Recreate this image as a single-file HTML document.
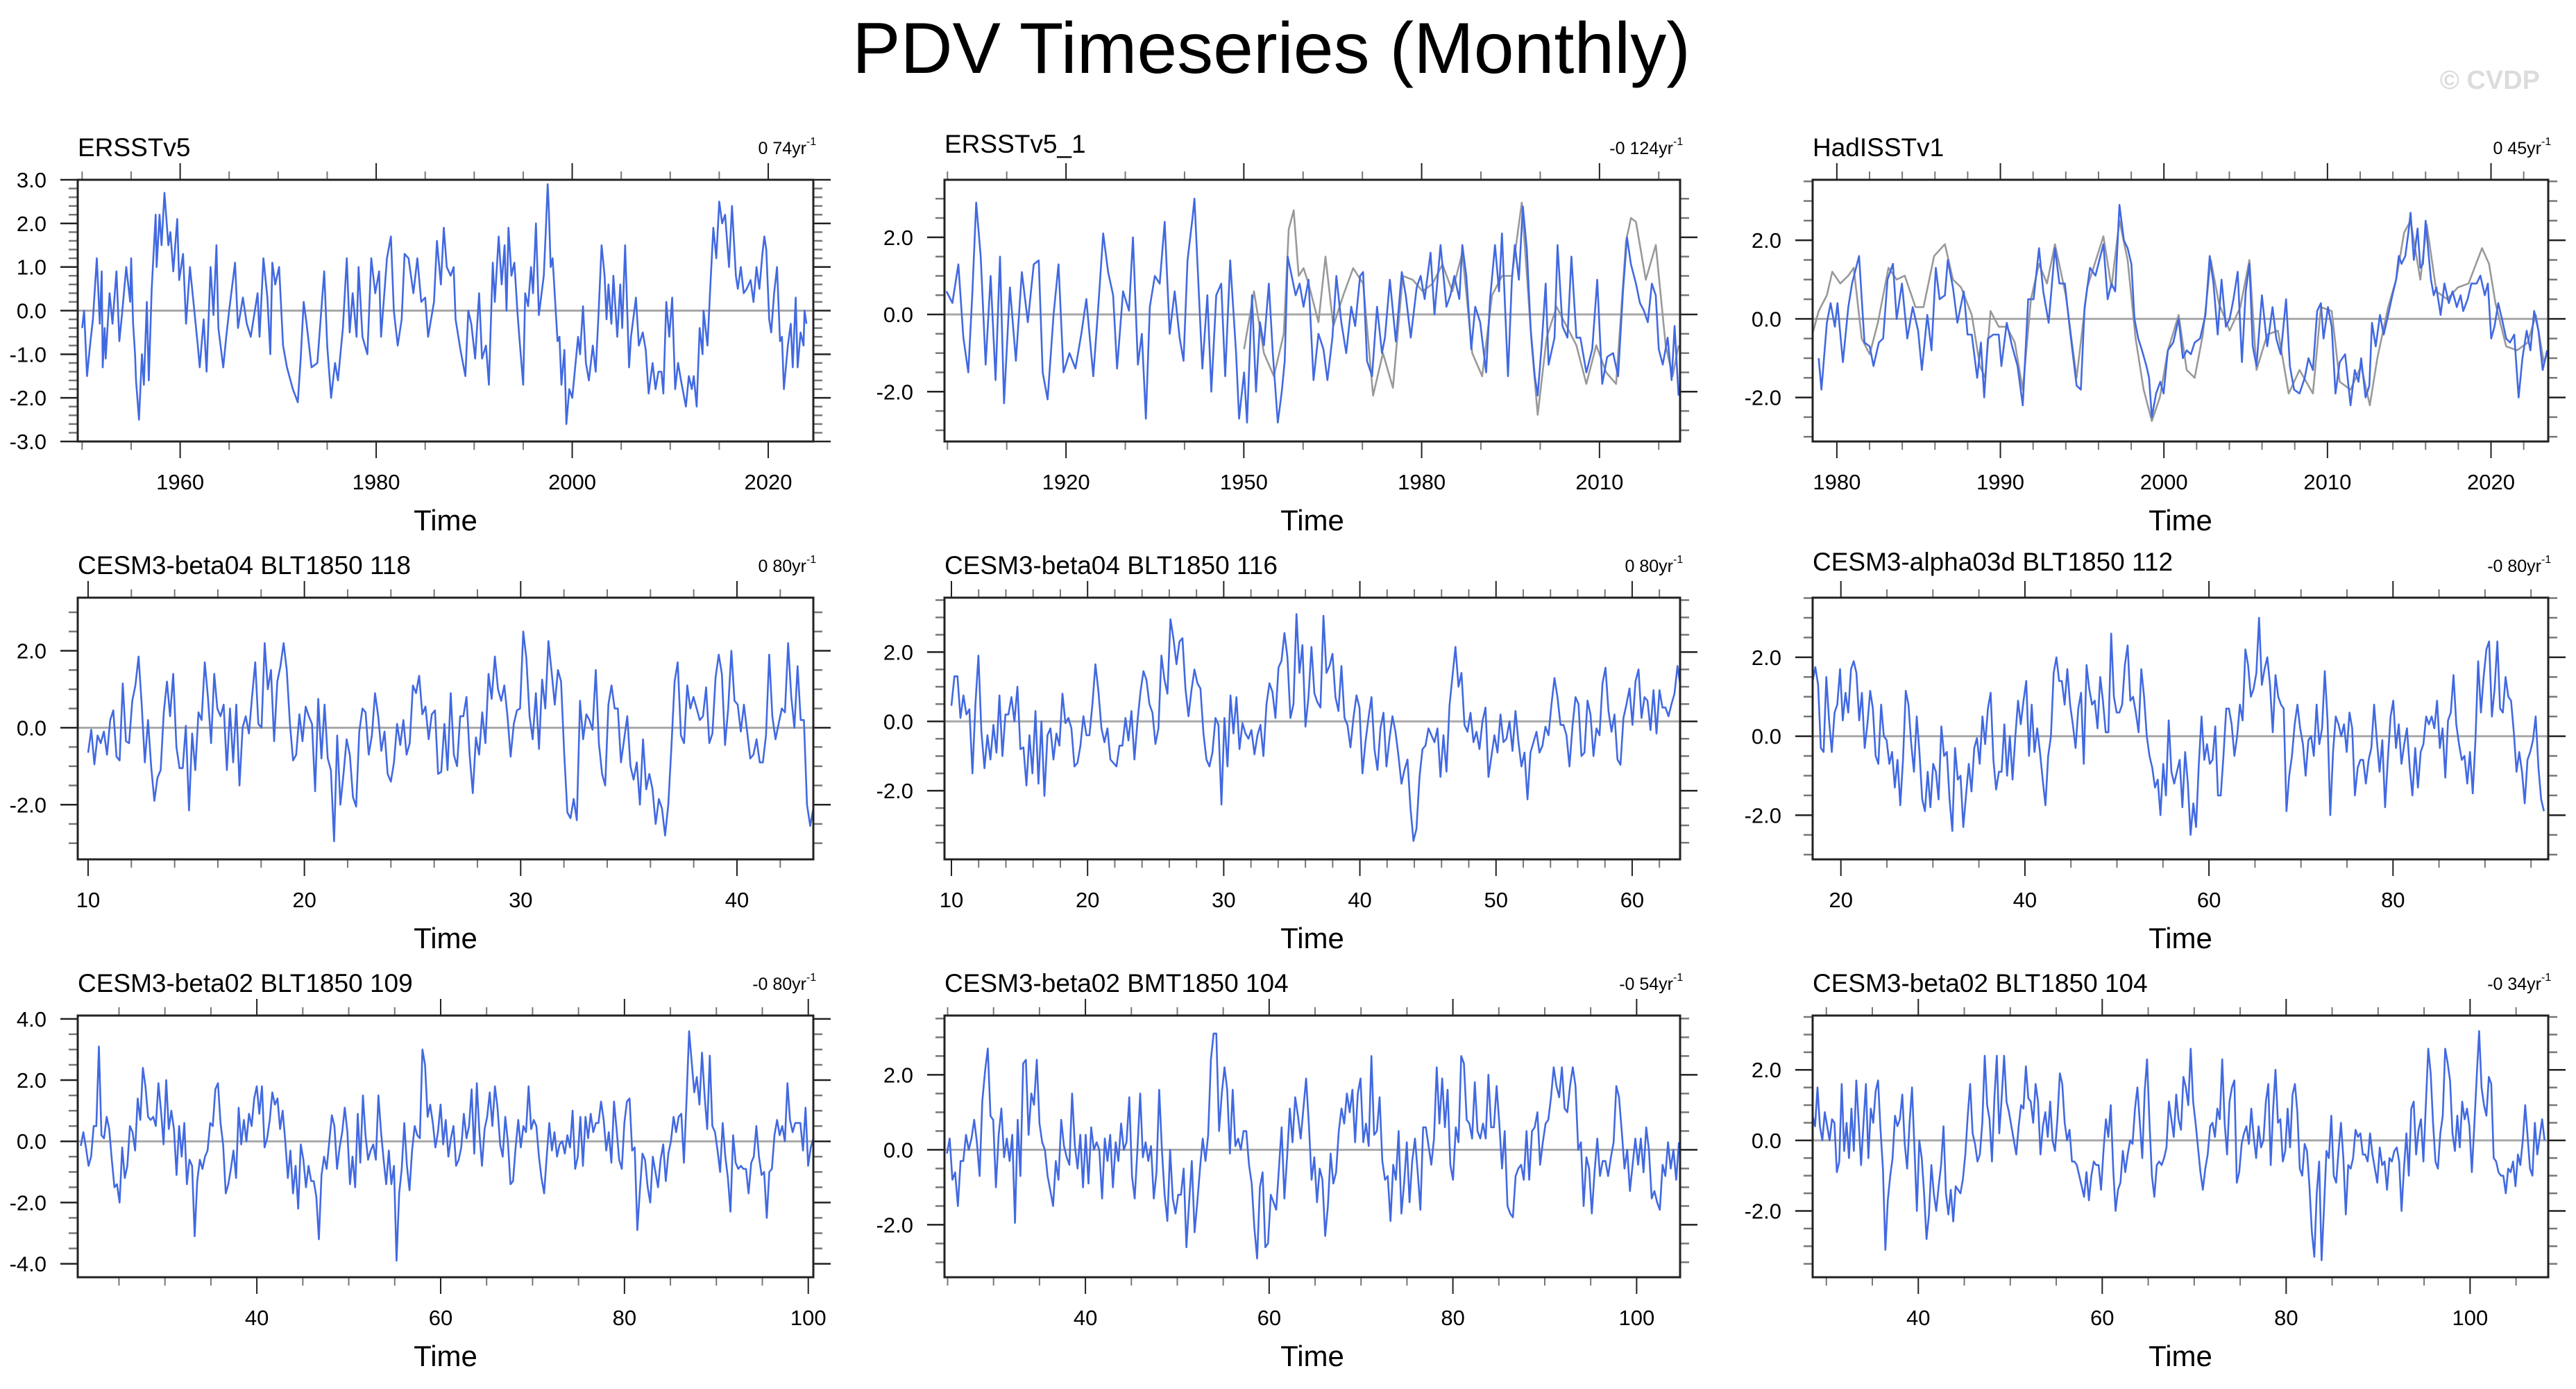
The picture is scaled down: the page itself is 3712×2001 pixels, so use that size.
<!DOCTYPE html>
<html><head><meta charset="utf-8"><title>PDV Timeseries (Monthly)</title>
<style>
html,body{margin:0;padding:0;background:#fff;}
svg{display:block;font-family:"Liberation Sans",Arial,sans-serif;}
</style></head>
<body>
<svg id="chart" width="3712" height="2001" viewBox="0 0 3712 2001" xmlns="http://www.w3.org/2000/svg">
<rect x="0" y="0" width="3712" height="2001" fill="#fff"/>
<text x="1832" y="105" font-size="104" text-anchor="middle" fill="#000">PDV Timeseries (Monthly)</text>
<text x="3660" y="128" font-size="38" font-weight="bold" text-anchor="end" fill="#dcdcdc">© CVDP</text>
</svg>
<script>
// ---------- data ----------
const p1Times = [1950.0,1950.2,1950.5,1950.8,1951.1,1951.5,1951.8,1952.0,1952.1,1952.3,1952.4,1952.8,1953.1,1953.5,1953.8,1954.1,1954.5,1954.9,1955.0,1955.2,1955.4,1955.5,1955.8,1956.1,1956.3,1956.6,1956.8,1957.1,1957.5,1957.6,1957.9,1958.1,1958.4,1958.8,1959.0,1959.3,1959.7,1959.9,1960.3,1960.6,1961.0,1961.4,1961.8,1962.0,1962.4,1962.7,1963.1,1963.4,1963.7,1963.9,1964.4,1964.7,1965.0,1965.6,1965.9,1966.4,1966.8,1967.2,1967.9,1968.1,1968.5,1968.9,1969.2,1969.4,1969.7,1970.1,1970.5,1970.9,1971.5,1972.0,1972.3,1972.6,1972.9,1973.4,1974.0,1974.7,1975.0,1975.4,1975.8,1976.1,1976.6,1977.0,1977.3,1977.6,1978.0,1978.2,1978.6,1979.1,1979.5,1979.9,1980.3,1980.5,1981.1,1981.5,1981.8,1982.2,1982.6,1982.9,1983.3,1983.8,1984.2,1984.6,1985.0,1985.3,1985.9,1986.2,1986.6,1986.9,1987.2,1987.6,1987.9,1988.1,1988.6,1989.1,1989.4,1989.7,1990.1,1990.5,1990.8,1991.2,1991.5,1991.9,1992.1,1992.5,1992.8,1993.1,1993.3,1993.5,1993.8,1994.1,1994.4,1994.6,1995.0,1995.2,1995.5,1995.8,1996.0,1996.3,1996.6,1997.1,1997.3,1997.5,1997.6,1997.8,1998.0,1998.5,1998.7,1998.9,1999.2,1999.4,1999.7,2000.0,2000.3,2000.6,2000.8,2001.1,2001.4,2001.7,2002.1,2002.4,2002.7,2003.0,2003.3,2003.5,2003.7,2004.0,2004.2,2004.6,2004.9,2005.1,2005.4,2005.8,2006.0,2006.5,2006.8,2007.2,2007.5,2007.8,2008.2,2008.5,2008.8,2009.1,2009.3,2009.6,2009.9,2010.2,2010.5,2010.8,2011.1,2011.6,2011.9,2012.2,2012.4,2012.7,2013.0,2013.3,2013.4,2013.8,2014.1,2014.4,2014.7,2015.0,2015.3,2015.6,2016.0,2016.3,2016.7,2016.9,2017.2,2017.5,2017.8,2018.2,2018.5,2018.8,2019.1,2019.4,2019.6,2019.8,2020.1,2020.3,2020.6,2020.9,2021.2,2021.4,2021.6,2022.0,2022.3,2022.5,2022.8,2023.0,2023.3,2023.6,2023.7,2023.9];
const p1Values = [-0.4,0.0,-1.5,-0.8,-0.2,1.2,-0.3,0.9,-1.3,-0.4,-1.1,0.4,-0.3,0.9,-0.7,0.0,1.0,0.2,1.2,-0.3,-1.0,-1.6,-2.5,-1.0,-1.7,0.2,-1.6,0.5,2.2,1.0,2.2,1.5,2.7,1.5,1.8,0.9,2.1,0.7,1.3,-0.3,1.0,0.1,-0.8,-1.3,-0.2,-1.4,1.0,-0.1,1.5,-0.4,-1.3,-0.6,0.0,1.1,-0.4,0.3,-0.3,-0.6,0.4,-0.6,1.2,0.3,-1.0,1.1,0.6,1.0,-0.8,-1.3,-1.8,-2.1,-1.1,0.2,-0.3,-1.3,-1.2,0.9,-0.8,-2.0,-1.2,-1.6,-0.4,1.2,-0.5,0.4,-0.6,1.0,-0.6,-1.0,1.2,0.4,0.9,-0.6,1.2,1.7,0.0,-0.8,-0.2,1.3,1.2,0.4,1.2,0.2,0.3,-0.6,0.2,1.6,0.6,1.9,1.0,0.8,1.0,-0.2,-0.9,-1.5,0.0,-0.3,-1.1,0.4,-1.1,-0.8,-1.7,1.1,0.2,1.7,0.6,1.5,0.0,1.9,0.8,1.1,0.0,-0.6,-1.7,0.4,0.1,1.0,0.4,2.0,-0.1,0.8,1.8,2.9,2.4,1.0,1.2,-0.7,-0.6,-1.7,-0.9,-2.6,-1.8,-2.0,-1.3,-0.6,-1.0,0.1,-1.2,-1.6,-0.8,-1.4,0.0,1.5,0.8,-0.2,0.6,-0.3,0.8,-0.6,0.6,-0.4,1.5,-1.3,-0.6,0.3,-0.8,-0.5,-0.9,-1.9,-1.2,-1.8,-1.4,-1.4,-1.9,0.2,-0.6,0.3,-1.8,-1.2,-1.6,-2.2,-1.5,-1.8,-1.5,-2.2,-0.4,-1.0,0.0,-0.8,0.6,1.9,1.2,2.5,2.0,2.2,1.0,2.4,0.8,0.5,1.0,0.4,0.5,0.7,0.2,1.0,0.5,1.3,1.7,1.4,-0.2,-0.5,0.4,1.0,-0.7,-0.6,-1.8,-0.8,-0.3,-1.3,0.3,-1.3,-0.5,-0.8,0.0,-0.3];

const p2Times = [1899.83,1900.84,1901.84,1902.68,1903.51,1904.18,1904.85,1905.61,1906.44,1907.28,1908.12,1908.87,1909.54,1910.54,1911.55,1912.55,1913.56,1914.56,1915.40,1916.07,1916.90,1917.91,1918.74,1919.58,1920.59,1921.59,1922.59,1923.43,1924.60,1925.44,1926.28,1927.11,1927.95,1928.62,1929.62,1930.63,1931.30,1932.13,1932.80,1933.47,1934.14,1934.98,1935.81,1936.65,1937.49,1938.33,1939.16,1939.83,1940.50,1941.34,1941.67,1942.34,1943.01,1943.85,1944.52,1945.35,1946.19,1946.86,1947.70,1948.70,1949.20,1950.04,1950.54,1951.38,1952.05,1952.72,1953.39,1954.22,1954.89,1955.73,1956.40,1956.90,1957.40,1958.07,1958.74,1959.41,1960.08,1960.92,1961.76,1962.59,1963.43,1964.10,1964.94,1965.61,1966.44,1967.28,1968.12,1968.78,1969.62,1970.12,1970.79,1971.63,1972.47,1973.30,1973.81,1974.64,1975.65,1976.65,1977.32,1978.16,1979.16,1979.83,1980.50,1981.50,1982.17,1983.18,1984.18,1984.85,1985.52,1986.36,1986.86,1987.53,1988.37,1989.04,1989.87,1990.88,1991.55,1992.38,1993.05,1993.55,1994.56,1995.22,1995.73,1996.40,1997.07,1997.74,1998.41,1999.08,1999.58,2000.24,2000.92,2001.42,2002.42,2002.93,2003.76,2004.60,2005.27,2006.11,2006.78,2007.78,2008.78,2009.62,2010.46,2011.29,2012.30,2013.14,2013.97,2014.64,2015.31,2016.15,2016.82,2017.49,2018.16,2018.83,2019.49,2020.00,2020.67,2021.50,2022.17,2022.67,2023.34];
const p2Values = [0.6,0.3,1.3,-0.6,-1.5,0.5,2.9,1.5,-1.3,1.0,-1.7,1.5,-2.3,0.7,-1.2,1.1,-0.2,1.3,1.4,-1.5,-2.2,0.0,1.3,-1.5,-1.0,-1.4,-0.5,0.4,-1.6,0.2,2.1,1.1,0.5,-1.4,0.6,0.1,2.0,-1.3,-0.5,-2.7,0.2,1.0,0.8,2.4,-0.5,0.6,-0.6,-1.2,1.4,2.5,3.0,0.8,-1.4,0.5,-2.0,0.5,0.8,-1.6,1.4,-1.0,-2.7,-1.5,-2.8,0.5,-2.0,-0.2,-0.8,0.8,-1.0,-2.8,-2.0,-1.2,1.5,1.0,0.5,0.8,0.2,0.9,-1.7,-0.5,-0.9,-1.7,-0.6,1.0,-0.2,-1.0,0.2,-0.3,1.0,1.1,-1.2,-1.6,0.2,-1.0,-0.6,0.9,-0.7,1.1,0.5,-0.6,0.7,1.0,0.4,1.6,0.0,1.8,0.2,0.5,1.0,0.4,1.8,1.0,-0.9,0.2,-0.2,-1.5,0.4,1.8,0.6,2.1,-1.6,0.9,1.8,0.9,2.8,1.7,-0.4,-1.6,-2.1,-0.8,0.8,-1.3,-0.6,1.8,-0.3,-0.6,1.5,-0.6,-0.6,-1.5,-0.9,0.9,-1.8,-1.1,-1.0,-1.6,0.6,2.0,1.3,0.8,0.3,0.1,-0.2,0.8,0.5,-0.9,-1.3,-0.6,-1.7,-0.3,-2.1];
const p2GrayTimes = [1950.04,1951.72,1953.39,1955.06,1956.74,1957.57,1958.41,1959.25,1960.08,1960.92,1962.59,1963.77,1965.10,1966.78,1968.45,1970.13,1971.80,1973.47,1975.15,1976.82,1978.49,1980.17,1981.84,1983.51,1985.19,1986.86,1988.54,1990.21,1991.88,1993.56,1995.23,1996.90,1998.58,1999.58,2001.09,2002.76,2004.44,2006.11,2007.78,2009.46,2011.13,2012.80,2014.48,2015.31,2016.15,2017.82,2019.50,2021.17,2022.34,2023.35];
const p2GrayValues = [-0.9,0.6,-1.0,-1.6,-0.5,2.2,2.7,1.0,1.2,0.8,-0.2,1.5,-0.3,0.5,1.2,0.8,-2.1,-1.0,-1.9,1.0,0.9,0.6,0.8,1.3,0.6,1.6,-1.0,-1.6,0.5,1.0,1.0,2.9,-0.8,-2.6,-0.6,0.2,-0.3,-0.8,-1.8,-0.8,-1.5,-1.8,1.9,2.5,2.4,0.9,1.8,-0.8,-1.6,-0.8];

const p3Times = [1978.89,1979.06,1979.39,1979.62,1979.88,1980.04,1980.37,1980.70,1980.93,1981.36,1981.69,1982.01,1982.24,1982.57,1982.83,1983.10,1983.43,1983.66,1983.98,1984.31,1984.64,1984.97,1985.20,1985.53,1985.79,1986.05,1986.28,1986.61,1986.78,1987.10,1987.37,1987.76,1987.99,1988.25,1988.58,1988.81,1989.01,1989.24,1989.57,1989.90,1990.06,1990.39,1990.72,1991.05,1991.37,1991.70,1992.03,1992.36,1992.62,1992.95,1993.34,1993.61,1993.94,1994.26,1994.66,1994.92,1995.15,1995.48,1995.81,1996.30,1996.56,1996.79,1997.02,1997.28,1997.55,1997.78,1998.01,1998.20,1998.43,1998.66,1998.93,1999.09,1999.26,1999.52,1999.78,1999.98,2000.24,2000.57,2000.90,2001.16,2001.39,2001.65,2001.88,2002.21,2002.54,2002.80,2003.03,2003.29,2003.52,2003.79,2004.02,2004.25,2004.51,2004.77,2005.00,2005.23,2005.43,2005.66,2005.99,2006.32,2006.64,2006.87,2007.14,2007.47,2007.70,2007.96,2008.29,2008.61,2008.84,2009.11,2009.37,2009.60,2009.76,2010.03,2010.26,2010.49,2010.75,2011.08,2011.41,2011.67,2011.90,2012.06,2012.33,2012.56,2012.72,2012.95,2013.21,2013.44,2013.71,2013.97,2014.20,2014.36,2014.53,2014.76,2014.95,2015.08,2015.28,2015.51,2015.68,2015.84,2016.00,2016.17,2016.33,2016.50,2016.66,2016.92,2017.15,2017.42,2017.65,2017.91,2018.14,2018.30,2018.57,2018.80,2019.12,2019.35,2019.62,2019.81,2020.01,2020.21,2020.44,2020.67,2020.93,2021.16,2021.42,2021.69,2021.92,2022.18,2022.41,2022.64,2022.90,2023.16,2023.43];
const p3Values = [-1.0,-1.8,-0.1,0.4,-0.2,0.4,-1.1,0.3,0.9,1.6,-0.6,-0.7,-1.2,-0.6,-0.5,1.0,1.4,0.0,0.9,-0.5,0.3,-0.3,-1.3,0.1,-0.8,1.3,0.5,0.6,1.5,0.8,-0.1,0.7,-0.4,-0.4,-1.5,-0.6,-2.0,-0.5,-0.4,-0.4,-1.2,-0.1,-0.7,-1.2,-2.2,0.5,0.5,1.8,0.7,-0.1,1.8,0.9,0.9,-0.3,-1.7,-1.8,0.3,1.3,1.1,1.9,0.5,0.9,0.7,2.9,2.0,1.8,1.4,0.0,-0.5,-0.8,-1.2,-1.5,-2.5,-1.9,-1.6,-1.9,-0.8,-0.6,0.0,-1.0,-0.8,-0.9,-0.6,-0.5,0.1,1.6,0.9,-0.4,1.0,-0.2,0.0,0.5,1.2,-1.1,0.7,1.4,-0.7,-1.2,0.6,-0.7,0.3,-0.5,-0.9,0.5,-1.2,-1.8,-1.9,-1.5,-1.0,-1.3,0.2,0.4,-0.5,0.3,-0.2,-1.9,-1.1,-0.9,-2.2,-1.3,-1.6,-1.0,-2.0,-1.7,-0.1,-0.7,0.1,-0.4,0.1,0.6,1.0,1.6,1.4,1.6,2.2,2.7,1.5,2.3,1.3,1.4,2.5,1.7,1.0,0.6,0.8,0.1,0.9,0.4,0.7,0.3,0.6,0.2,0.5,0.9,0.9,1.1,0.6,0.9,-0.5,-0.2,0.4,0.0,-0.5,-0.6,-0.4,-2.0,-1.0,-0.3,-0.8,0.2,-0.3,-1.3,-0.8];
const p3GrayTimes = [1978.50,1978.89,1979.39,1979.72,1980.21,1980.70,1981.03,1981.52,1982.01,1982.51,1983.16,1983.66,1984.15,1984.81,1985.30,1985.95,1986.61,1987.10,1987.60,1988.25,1988.75,1989.07,1989.40,1989.90,1990.39,1990.88,1991.37,1991.87,1992.36,1992.85,1993.34,1994.00,1994.66,1995.31,1996.30,1996.79,1997.28,1997.78,1998.27,1998.76,1999.26,1999.75,2000.24,2000.90,2001.39,2001.88,2002.38,2002.87,2003.36,2004.02,2004.67,2005.23,2005.66,2006.32,2006.97,2007.63,2008.29,2009.11,2009.60,2010.26,2010.75,2011.41,2012.06,2012.59,2013.05,2013.71,2014.20,2014.69,2015.08,2015.68,2016.07,2016.66,2017.32,2017.97,2018.63,2019.45,2019.88,2020.27,2020.93,2021.59,2022.25,2022.74,2023.23,2023.43];
const p3GrayValues = [-0.4,0.2,0.6,1.2,0.9,1.1,1.3,-0.5,-0.9,-0.1,1.3,1.0,1.1,0.3,0.3,1.6,1.9,1.0,0.8,0.1,-1.2,-1.5,0.2,-0.2,-0.2,-0.6,-1.8,0.5,1.4,0.9,1.9,0.6,-1.5,0.8,2.1,0.8,2.5,1.5,-0.5,-1.8,-2.6,-2.0,-0.8,0.1,-1.3,-1.5,-0.4,1.5,0.4,-0.3,0.3,1.5,-1.3,-0.4,-0.3,-1.9,-1.3,-1.9,0.3,0.2,-1.6,-1.8,-1.2,-2.2,-1.0,0.3,1.0,2.2,2.5,1.0,2.4,0.7,0.5,0.8,0.9,1.8,1.4,0.4,-0.7,-0.8,-0.6,0.1,-1.1,-0.9];

const p4Span = [10.0, 43.53];
const p4Values = [-0.65,-0.05,-0.95,-0.2,-0.4,-0.1,-0.7,0.2,0.45,-0.75,-0.85,1.15,-0.35,-0.4,0.7,1.1,1.85,0.6,-0.9,0.2,-1.0,-1.9,-1.3,-1.1,0.4,1.2,0.3,1.4,-0.5,-1.05,-1.05,0.05,-2.15,-0.15,-1.1,0.4,0.2,1.7,0.8,-0.4,1.4,0.5,0.3,0.6,-1.1,0.5,-0.9,0.6,-1.5,0.0,0.3,-0.15,0.8,1.7,0.1,0.0,2.2,1.0,1.5,-0.35,1.2,1.6,2.2,1.5,0.1,-0.85,-0.7,0.35,-0.35,0.55,0.3,0.1,-1.65,0.75,-0.8,0.6,-0.8,-1.1,-2.95,-0.2,-2.0,-1.2,-0.3,-0.7,-1.8,-2.05,-0.1,0.5,0.4,-0.7,-0.2,0.9,0.3,-0.6,-0.1,-1.2,-1.4,-0.9,0.1,-0.45,0.2,-0.7,-0.4,1.1,0.9,1.35,0.35,0.55,-0.3,0.35,0.45,-1.2,-1.15,0.1,-1.1,0.9,-0.7,-1.0,0.3,0.3,0.8,-0.7,-1.7,-0.25,-0.7,0.4,-0.4,1.4,0.75,1.85,1.0,0.7,1.1,0.3,-0.75,0.1,0.45,0.5,2.5,1.8,0.3,-0.3,0.9,-0.55,1.25,0.5,2.25,1.45,0.6,1.5,1.2,-0.7,-2.2,-2.35,-1.85,-2.4,0.7,-0.3,0.35,0.2,-0.05,1.5,-0.4,-1.2,-1.5,0.6,1.1,0.5,0.5,-0.9,-0.3,0.3,-1.0,-1.35,-0.9,-2.0,-0.3,-1.6,-1.2,-1.6,-2.5,-1.85,-2.1,-2.8,-2.0,-0.5,1.2,1.7,-0.2,-0.4,1.1,0.5,0.8,0.5,0.2,0.3,1.05,-0.4,-0.15,1.3,1.9,1.4,-0.45,0.5,2.0,0.7,0.6,-0.1,0.6,-0.1,-0.8,-0.7,-0.3,-0.9,-0.9,-0.2,1.9,0.3,-0.3,0.1,0.5,0.4,2.2,0.8,0.0,1.6,0.2,0.2,-2.0,-2.55,-2.1];

const p5Span = [10.0, 63.55];
const p5Values = [0.45,1.3,1.3,0.1,0.75,0.2,0.35,-1.5,0.5,1.9,-0.3,-1.35,-0.4,-1.1,-0.1,-0.9,0.75,-1.0,0.2,0.2,0.7,0.0,1.0,-0.8,-0.75,-1.85,-0.4,-1.5,0.3,-1.8,0.0,-2.15,-0.4,-0.2,-1.1,-0.35,-0.7,0.8,-0.05,0.1,-0.2,-1.3,-1.2,-0.7,0.15,-0.4,-0.4,0.5,1.65,0.85,-0.2,-0.6,-0.2,-1.1,-1.2,-1.3,-0.7,-0.7,0.1,-0.55,0.3,-1.1,0.0,0.85,1.45,1.2,0.5,0.25,-0.65,-0.2,1.9,1.2,0.8,2.95,2.4,1.65,2.3,2.4,0.95,0.15,0.9,1.5,1.1,0.95,-0.35,-1.1,-1.3,-0.9,0.1,-0.1,-2.4,0.1,-1.3,0.75,-0.35,0.7,-0.8,-0.05,-0.35,-0.5,-0.25,-0.95,-0.4,-0.1,-1.0,0.5,1.1,0.85,0.1,1.55,1.75,2.55,1.85,0.1,0.5,3.1,1.4,2.2,-0.15,0.7,2.15,0.8,0.55,0.4,3.05,1.4,1.6,1.95,0.7,0.3,1.6,0.1,-0.1,-0.75,0.1,0.75,0.4,-1.5,-0.6,0.1,0.7,-0.8,-1.4,-0.2,0.25,-1.3,-0.5,0.15,-0.3,-1.0,-1.8,-1.4,-1.1,-2.5,-3.45,-3.1,-1.6,-0.8,-0.7,-0.2,-0.4,-0.6,-0.2,-1.6,-0.4,-1.45,0.45,1.3,2.15,1.0,1.4,-0.1,-0.3,0.25,-0.6,-0.3,-0.8,0.0,0.4,-1.6,-1.0,-0.4,-0.9,0.2,-0.6,-0.5,0.0,-0.85,0.3,-0.6,-1.3,-0.9,-2.25,-0.9,-0.6,-0.3,-0.9,-0.7,-0.15,-0.4,0.5,1.25,0.7,-0.1,-0.1,-0.4,-1.3,-0.15,0.7,0.5,-1.0,-0.9,0.6,0.2,-1.0,-0.2,-0.4,1.1,1.55,0.3,-0.3,0.2,-1.1,-1.25,0.1,0.5,0.95,-0.1,1.15,1.5,0.1,0.7,0.6,-0.25,0.9,-0.35,0.9,0.4,0.4,0.15,0.5,0.8,1.6,1.0];

const p6Span = [16.93, 96.4];
const p6Values = [1.4,1.75,1.3,-0.3,-0.4,1.5,0.4,-0.4,0.6,0.8,1.7,0.4,1.1,0.6,1.7,1.9,1.6,0.4,1.1,-0.3,0.3,1.15,0.7,-0.5,-0.7,0.8,0.0,-0.1,-0.7,-0.4,-1.3,-0.6,-1.75,-0.6,1.15,0.8,-0.2,-0.9,0.5,-0.4,-1.6,-1.9,-0.9,-1.8,-0.7,-0.9,-1.6,0.25,-0.5,-0.4,-1.6,-2.4,-0.3,-1.1,-1.0,-2.3,-1.5,-0.7,-1.4,-0.3,-0.05,-0.7,0.5,-0.2,0.7,1.1,-0.6,-1.35,-0.9,-0.9,0.3,-1.0,0.0,-1.1,0.0,0.9,0.3,0.9,1.4,-0.5,0.8,-0.4,0.2,-0.4,-1.1,-1.75,-0.5,0.0,1.6,2.0,1.4,1.4,0.8,1.7,0.8,0.3,-0.3,0.7,1.1,-0.7,1.8,1.2,0.8,0.9,0.2,1.5,0.9,0.1,0.1,2.6,1.0,0.6,0.6,0.8,1.8,2.3,0.9,1.0,0.6,0.1,1.7,1.0,0.0,-0.5,-0.8,-1.3,-1.1,-2.0,-0.7,-1.5,0.4,-0.9,-1.2,-0.9,-0.6,-1.8,-0.4,-1.2,-2.5,-1.7,-2.3,-0.7,0.5,-0.6,-0.2,-0.7,-0.6,0.25,-1.5,-1.5,-0.5,0.7,0.7,0.3,-0.5,0.0,0.8,0.4,2.2,1.8,1.0,1.2,1.6,3.0,1.3,1.7,2.0,1.3,0.1,1.55,1.0,0.8,0.7,-1.9,-1.0,-0.5,0.3,0.8,0.2,-0.2,-1.0,-0.1,0.0,-0.5,0.8,-0.2,0.2,1.65,0.4,-2.0,-0.4,0.5,0.3,0.0,0.3,-0.4,0.6,0.2,-1.5,-0.8,-0.6,-0.6,-1.2,-0.6,-0.3,0.8,-0.1,-0.9,-0.1,-1.8,-0.6,0.5,0.9,-0.3,0.3,-0.7,-0.2,0.2,-0.8,-1.5,-0.3,-1.3,-0.4,-0.2,0.5,0.3,0.5,0.2,0.9,-0.3,0.2,-1.05,0.4,0.6,1.55,0.3,-0.2,-0.6,-0.5,-1.2,-0.4,-1.45,-0.1,1.9,0.6,1.5,2.2,2.4,0.5,1.2,2.4,0.7,0.6,1.5,1.0,0.9,0.1,-0.9,-0.4,-0.9,-1.7,-0.6,-0.4,-0.1,0.5,-0.8,-1.6,-1.9];

const p7Span = [20.84, 100.55];
const p7Values = [-0.15,0.3,-0.2,-0.8,-0.5,0.5,0.5,3.1,0.2,0.1,0.8,0.4,-0.6,-1.5,-1.4,-2.0,-0.2,-1.2,-0.8,0.5,0.3,-0.3,1.4,0.7,2.4,1.8,0.8,0.7,0.8,0.5,1.9,1.0,-0.1,2.0,0.4,1.0,0.4,-1.1,0.5,-0.5,0.6,-1.4,-0.6,-0.8,-3.1,-1.3,-0.6,-0.9,-0.5,-0.3,0.6,0.5,1.7,1.9,0.6,-0.1,-1.7,-1.4,-0.9,-0.3,-1.2,1.1,-0.1,0.7,0.0,0.9,0.5,1.4,1.8,0.9,1.8,-0.2,0.1,0.7,1.6,1.2,1.4,0.4,1.0,0.0,-1.2,-0.3,-1.7,-0.8,-2.2,-0.1,-0.6,-1.5,-0.8,-1.3,-1.3,-1.8,-3.2,-1.1,-0.5,-0.9,0.0,0.85,0.5,-0.9,-0.2,0.3,1.1,0.3,-1.4,-0.5,-1.5,0.9,-0.7,1.5,0.2,-0.6,-0.3,-0.1,-0.6,1.5,0.3,-0.6,-1.4,-0.3,-1.4,-0.8,-3.9,-1.7,-0.9,0.6,-0.8,-1.6,-0.3,0.5,0.2,0.1,3.0,2.5,0.8,1.2,0.6,-0.2,0.3,1.2,-0.1,0.7,-0.5,0.1,0.5,-0.8,-0.6,-0.2,0.9,0.1,0.5,1.7,-0.4,1.9,0.3,-0.8,0.4,0.8,1.6,0.5,1.8,1.1,-0.1,-0.5,0.8,0.0,-1.4,-1.3,-0.2,0.7,-0.2,0.5,0.3,1.8,0.4,0.7,0.5,-0.5,-1.2,-1.7,-0.5,0.6,-0.3,0.3,-0.5,-0.1,0.0,-0.4,0.2,-0.2,1.0,-0.9,-0.5,0.8,-0.8,0.8,0.1,0.9,0.3,0.6,0.6,1.3,0.7,-0.3,0.3,-0.7,1.3,0.4,-0.6,-0.9,0.6,1.3,1.4,-0.3,-0.2,-2.9,-1.6,-0.4,-0.6,-1.5,-2.0,-0.5,-1.0,-1.5,-0.6,-0.1,-1.3,-0.4,0.0,0.8,0.3,0.8,0.9,-0.7,1.3,3.6,2.6,1.6,2.1,1.2,2.9,1.5,0.4,2.8,0.5,0.3,-0.3,-1.0,0.6,-0.5,-1.2,-2.3,0.2,-0.7,-0.9,-0.8,-0.9,-0.9,-1.7,-0.7,-0.5,0.5,-0.5,-1.1,-1.0,-2.5,-1.0,-0.9,0.2,0.7,0.2,0.5,0.0,1.9,0.7,0.3,0.6,0.6,0.6,-0.3,1.1,-0.8,-0.2,0.1];

const p8Span = [24.93, 104.6];
const p8Values = [-0.1,0.3,-0.8,-0.6,-1.5,-0.3,-0.3,0.4,0.0,0.3,0.8,0.2,-0.7,1.3,2.1,2.7,0.9,0.8,-1.0,0.4,1.1,-0.2,0.3,-0.3,0.4,-1.95,0.8,-0.7,2.3,2.4,0.4,1.5,1.2,2.4,0.7,0.2,0.0,-0.7,-1.1,-1.5,-0.3,-0.8,0.8,0.1,-0.2,-0.4,1.5,0.1,-0.5,0.4,-1.0,0.4,-0.9,0.6,0.0,0.2,0.0,-1.3,0.3,-0.3,0.4,-1.0,0.2,-0.3,0.7,0.0,0.2,1.4,-0.7,-1.3,0.0,1.5,-0.2,0.2,-0.3,0.1,-1.3,-0.6,1.6,0.0,-1.2,-1.9,0.0,-1.3,-1.7,-1.2,-1.2,-0.5,-2.6,-1.4,-0.3,-2.2,-1.4,-0.5,0.3,-0.3,0.4,2.4,3.1,3.1,0.5,1.5,2.2,1.6,-0.1,1.6,0.1,0.3,0.0,0.5,0.5,-0.4,-0.9,-2.1,-2.9,-1.0,-0.6,-2.6,-2.5,-1.2,-1.4,-1.6,-0.5,0.6,-1.3,-0.2,1.1,0.2,1.4,0.9,0.3,1.1,1.9,0.7,-0.8,-0.2,-1.4,-0.5,-0.8,-2.3,-1.5,-0.1,-0.9,-0.6,0.5,1.1,0.7,1.5,1.0,1.6,0.2,1.5,1.9,0.2,0.7,0.1,2.5,0.4,0.5,1.4,-0.3,-0.8,-0.7,-1.9,-0.4,-0.8,0.5,-1.7,-0.9,0.2,-1.4,-0.3,0.3,-0.6,-1.6,0.6,0.6,0.1,-0.4,0.3,2.2,0.7,1.9,0.6,1.6,-0.4,-0.8,0.6,0.2,2.5,2.3,0.8,0.7,0.3,1.8,0.5,0.3,0.7,0.3,2.0,0.6,0.6,1.7,0.7,-0.5,0.5,-1.5,-1.7,-1.8,-0.7,-0.5,-0.4,-0.8,0.5,-0.8,0.5,0.6,1.0,-0.4,0.2,0.7,0.8,1.4,2.2,1.7,1.4,2.2,1.1,1.0,1.7,2.2,1.7,0.0,0.2,-1.5,-0.2,-0.5,-1.7,-0.6,0.3,-0.7,-0.3,-0.3,-0.7,-0.2,0.2,1.7,1.4,0.5,-0.5,0.0,-1.1,-0.4,0.3,-0.4,0.3,-0.6,0.6,0.0,-1.3,-1.1,-1.4,-1.6,-0.4,-0.7,0.2,-0.5,0.0,-0.8,0.2];

const p9Span = [28.51, 108.1];
const p9Values = [0.7,0.4,1.5,0.4,0.0,0.8,0.4,0.0,0.6,0.5,-0.9,-0.6,1.6,-0.3,0.5,-0.5,0.9,-0.3,1.7,0.5,-0.7,0.5,1.6,-0.5,0.9,0.5,1.4,1.7,0.3,-0.8,-3.1,-1.7,-1.0,-0.5,0.7,0.4,0.6,1.3,-0.1,-0.8,0.5,1.5,-0.2,-2.0,0.0,-0.5,-1.5,-2.8,-2.1,-0.7,-1.5,-2.0,-1.3,-0.7,0.4,-1.5,-2.1,-1.4,-2.3,-1.3,-1.4,-1.5,-1.1,-0.4,0.7,1.6,0.2,-0.1,-0.6,-0.4,0.5,2.4,1.0,0.6,-0.6,1.2,2.4,0.2,1.2,2.4,1.1,0.8,0.4,0.0,-0.4,0.4,1.0,0.9,2.1,1.2,1.1,0.5,1.6,1.1,-0.4,0.4,0.8,0.1,1.1,0.0,-0.3,0.6,1.9,1.6,0.5,0.0,0.3,-0.6,-0.6,-0.7,-1.0,-1.3,-1.6,-0.9,-1.7,-1.0,-0.6,-0.7,-0.7,-1.4,-0.3,0.6,0.1,1.0,-0.8,-2.0,-1.4,-1.2,-0.3,-0.9,-0.4,0.0,-0.1,0.9,1.5,0.5,-0.5,1.4,2.3,0.5,-1.0,-1.6,-0.7,-0.6,-0.7,-0.5,-0.2,1.1,0.6,0.1,1.3,0.6,0.3,1.8,1.5,1.0,2.6,1.1,0.5,-0.2,-0.9,-1.4,-0.8,-0.4,0.4,0.5,0.1,0.9,0.6,2.3,0.5,-0.4,1.1,1.5,1.7,-1.2,-0.9,-0.1,0.2,0.4,-0.1,0.9,0.1,-0.5,0.4,-0.2,0.0,1.1,1.6,-0.7,0.9,2.0,0.5,0.6,-0.6,-0.3,0.9,-0.2,1.3,1.6,0.8,-0.8,-1.0,-0.1,-0.3,-1.3,-2.6,-3.3,-1.5,-0.6,-3.4,-1.9,-0.3,-0.5,0.7,-1.0,-1.2,-0.3,0.5,-0.5,-2.1,-0.7,-0.8,-0.5,0.3,0.1,0.2,-0.4,-0.4,-0.6,0.2,-0.4,-0.8,-1.2,-0.2,-0.7,-0.6,-1.4,-0.5,-0.6,-0.3,-0.2,-0.6,-2.0,-0.8,0.2,-1.0,0.9,1.1,-0.4,0.3,0.6,-0.6,1.0,2.6,1.9,0.5,-0.6,-0.8,0.2,0.7,2.6,2.2,1.7,0.2,-0.3,0.7,-0.2,1.1,0.6,0.9,0.4,-0.9,0.4,1.8,3.1,1.5,1.0,0.7,1.8,1.6,-0.5,-0.6,-0.9,-1.0,-1.0,-1.5,-0.8,-0.9,-0.6,-1.3,-0.4,-0.7,0.0,1.0,0.1,-0.8,-1.0,0.5,-0.4,0.1,0.6,0.0];

const panelTitles = ["ERSSTv5","ERSSTv5_1","HadISSTv1","CESM3-beta04 BLT1850 118","CESM3-beta04 BLT1850 116","CESM3-alpha03d BLT1850 112","CESM3-beta02 BLT1850 109","CESM3-beta02 BMT1850 104","CESM3-beta02 BLT1850 104"];
const trendLabels = ["0 74","-0 124","0 45","0 80","0 80","-0 80","-0 80","-0 54","-0 34"];
const xDomains = [[1949.55,2024.6],[1899.5,2023.6],[1978.52,2023.5],[9.52,43.53],[9.49,63.52],[16.93,96.87],[20.51,100.55],[24.66,104.73],[28.51,108.5]];
const yDomains = [[-3,3],[-3.29,3.49],[-3.12,3.54],[-3.42,3.38],[-3.98,3.57],[-3.12,3.51],[-4.44,4.11],[-3.4,3.58],[-3.88,3.54]];
const xMajorSteps = [20,30,10,10,10,20,20,20,20];
const xMinorSteps = [5,10,2,2,2,5,5,5,5];
const yMajorSteps = [1,2,2,2,2,2,2,2,2];
const yMinorSteps = [0.2,0.5,0.5,0.5,0.5,0.5,0.5,0.5,0.5];

// ---------- drawing ----------
const NS = "http://www.w3.org/2000/svg";
const svg = document.getElementById('chart');
const colLeft = [112, 1361, 2612];
const rowTop = [259, 861, 1463];
const PW = 1060, PH = 377;

function mk(tag, attrs, parent) {
  const el = document.createElementNS(NS, tag);
  for (const k in attrs) el.setAttribute(k, attrs[k]);
  parent.appendChild(el);
  return el;
}
function uniformTimes(span, n) {
  const out = [];
  for (let i = 0; i < n; i++) out.push(span[0] + (span[1] - span[0]) * i / (n - 1));
  return out;
}
function ticksIn(d, step) {
  const out = [];
  const s = Math.ceil(d[0] / step - 1e-6);
  for (let k = s; k * step <= d[1] + 1e-6; k++) out.push(+(k * step).toFixed(4));
  return out;
}
const seriesByPanel = [
  [{t: p1Times, v: p1Values, c: '#4169e1'}],
  [{t: p2GrayTimes, v: p2GrayValues, c: '#999999'}, {t: p2Times, v: p2Values, c: '#4169e1'}],
  [{t: p3GrayTimes, v: p3GrayValues, c: '#999999'}, {t: p3Times, v: p3Values, c: '#4169e1'}],
  [{t: uniformTimes(p4Span, p4Values.length), v: p4Values, c: '#4169e1'}],
  [{t: uniformTimes(p5Span, p5Values.length), v: p5Values, c: '#4169e1'}],
  [{t: uniformTimes(p6Span, p6Values.length), v: p6Values, c: '#4169e1'}],
  [{t: uniformTimes(p7Span, p7Values.length), v: p7Values, c: '#4169e1'}],
  [{t: uniformTimes(p8Span, p8Values.length), v: p8Values, c: '#4169e1'}],
  [{t: uniformTimes(p9Span, p9Values.length), v: p9Values, c: '#4169e1'}]
];
const defs = mk('defs', {}, svg);

for (let p = 0; p < 9; p++) {
  const L = colLeft[p % 3], T = rowTop[Math.floor(p / 3)], R = L + PW, B = T + PH;
  const xd = xDomains[p], yd = yDomains[p];
  const sx = v => L + (v - xd[0]) / (xd[1] - xd[0]) * PW;
  const sy = v => B - (v - yd[0]) / (yd[1] - yd[0]) * PH;
  const g = mk('g', {}, svg);
  
  

  const cp = mk('clipPath', {id: 'clip' + p}, defs);
  mk('rect', {x: L, y: T, width: PW, height: PH}, cp);

  ticksIn(xd, xMinorSteps[p]).forEach(v => {
    const x = sx(v);
    const isMajor = Math.abs(v / xMajorSteps[p] - Math.round(v / xMajorSteps[p])) < 1e-6;
    const len = isMajor ? 24 : 12;
    const col = isMajor ? '#222' : '#777';
    const t1 = mk('line', {x1: x, y1: B, x2: x, y2: B + len, stroke: col, 'stroke-width': 2}, g);
    
    
    const t2 = mk('line', {x1: x, y1: T, x2: x, y2: T - len, stroke: col, 'stroke-width': 2}, g);
    
    
  });
  ticksIn(yd, yMinorSteps[p]).forEach(v => {
    const y = sy(v);
    const isMajor = Math.abs(v / yMajorSteps[p] - Math.round(v / yMajorSteps[p])) < 1e-6;
    const len = isMajor ? 25 : 13;
    const col = isMajor ? '#222' : '#777';
    const t1 = mk('line', {x1: L, y1: y, x2: L - len, y2: y, stroke: col, 'stroke-width': 2.5}, g);
    
    
    const t2 = mk('line', {x1: R, y1: y, x2: R + len, y2: y, stroke: col, 'stroke-width': 2.5}, g);
    
    
  });
  ticksIn(xd, xMajorSteps[p]).forEach(v => {
    const tx = mk('text', {x: sx(v), y: B + 69, 'font-size': 31, 'text-anchor': 'middle', fill: '#000'}, g);
    tx.textContent = String(Math.round(v));
    
    
  });
  ticksIn(yd, yMajorSteps[p]).forEach(v => {
    const ty = mk('text', {x: L - 45, y: sy(v) + 11, 'font-size': 31, 'text-anchor': 'end', fill: '#000'}, g);
    ty.textContent = v.toFixed(1);
    
    
  });
  const z = mk('line', {x1: L, y1: sy(0), x2: R, y2: sy(0), stroke: '#a8a8a8', 'stroke-width': 3}, g);
  
  
  seriesByPanel[p].forEach(s => {
    let d = '';
    for (let i = 0; i < s.v.length; i++) d += (i ? 'L' : 'M') + sx(s.t[i]).toFixed(1) + ' ' + sy(s.v[i]).toFixed(1);
    const path = mk('path', {d: d, fill: 'none', stroke: s.c, 'stroke-width': 2.6, 'stroke-linejoin': 'round', 'clip-path': 'url(#clip' + p + ')'}, g);
    
    
  });
  const fr = mk('rect', {x: L, y: T, width: PW, height: PH, fill: 'none', stroke: '#222', 'stroke-width': 3}, g);
  
  
  const off = (p === 1 || p === 5) ? 39 : 34;
  const tt = mk('text', {x: L, y: T - off, 'font-size': 37, fill: '#000'}, g);
  tt.textContent = panelTitles[p];
  
  
  const tr = mk('text', {x: R - 10, y: T - 37, 'font-size': 25, 'text-anchor': 'end', fill: '#000'}, g);
  tr.textContent = trendLabels[p] + 'yr';
  
  
  const sup = mk('text', {x: R - 10, y: T - 50, 'font-size': 16, fill: '#000'}, g);
  sup.textContent = '-1';
  
  
  const xl = mk('text', {x: L + PW / 2, y: B + 128, 'font-size': 42, 'text-anchor': 'middle', fill: '#000'}, g);
  xl.textContent = 'Time';
  
  
}
</script>
</body></html>
